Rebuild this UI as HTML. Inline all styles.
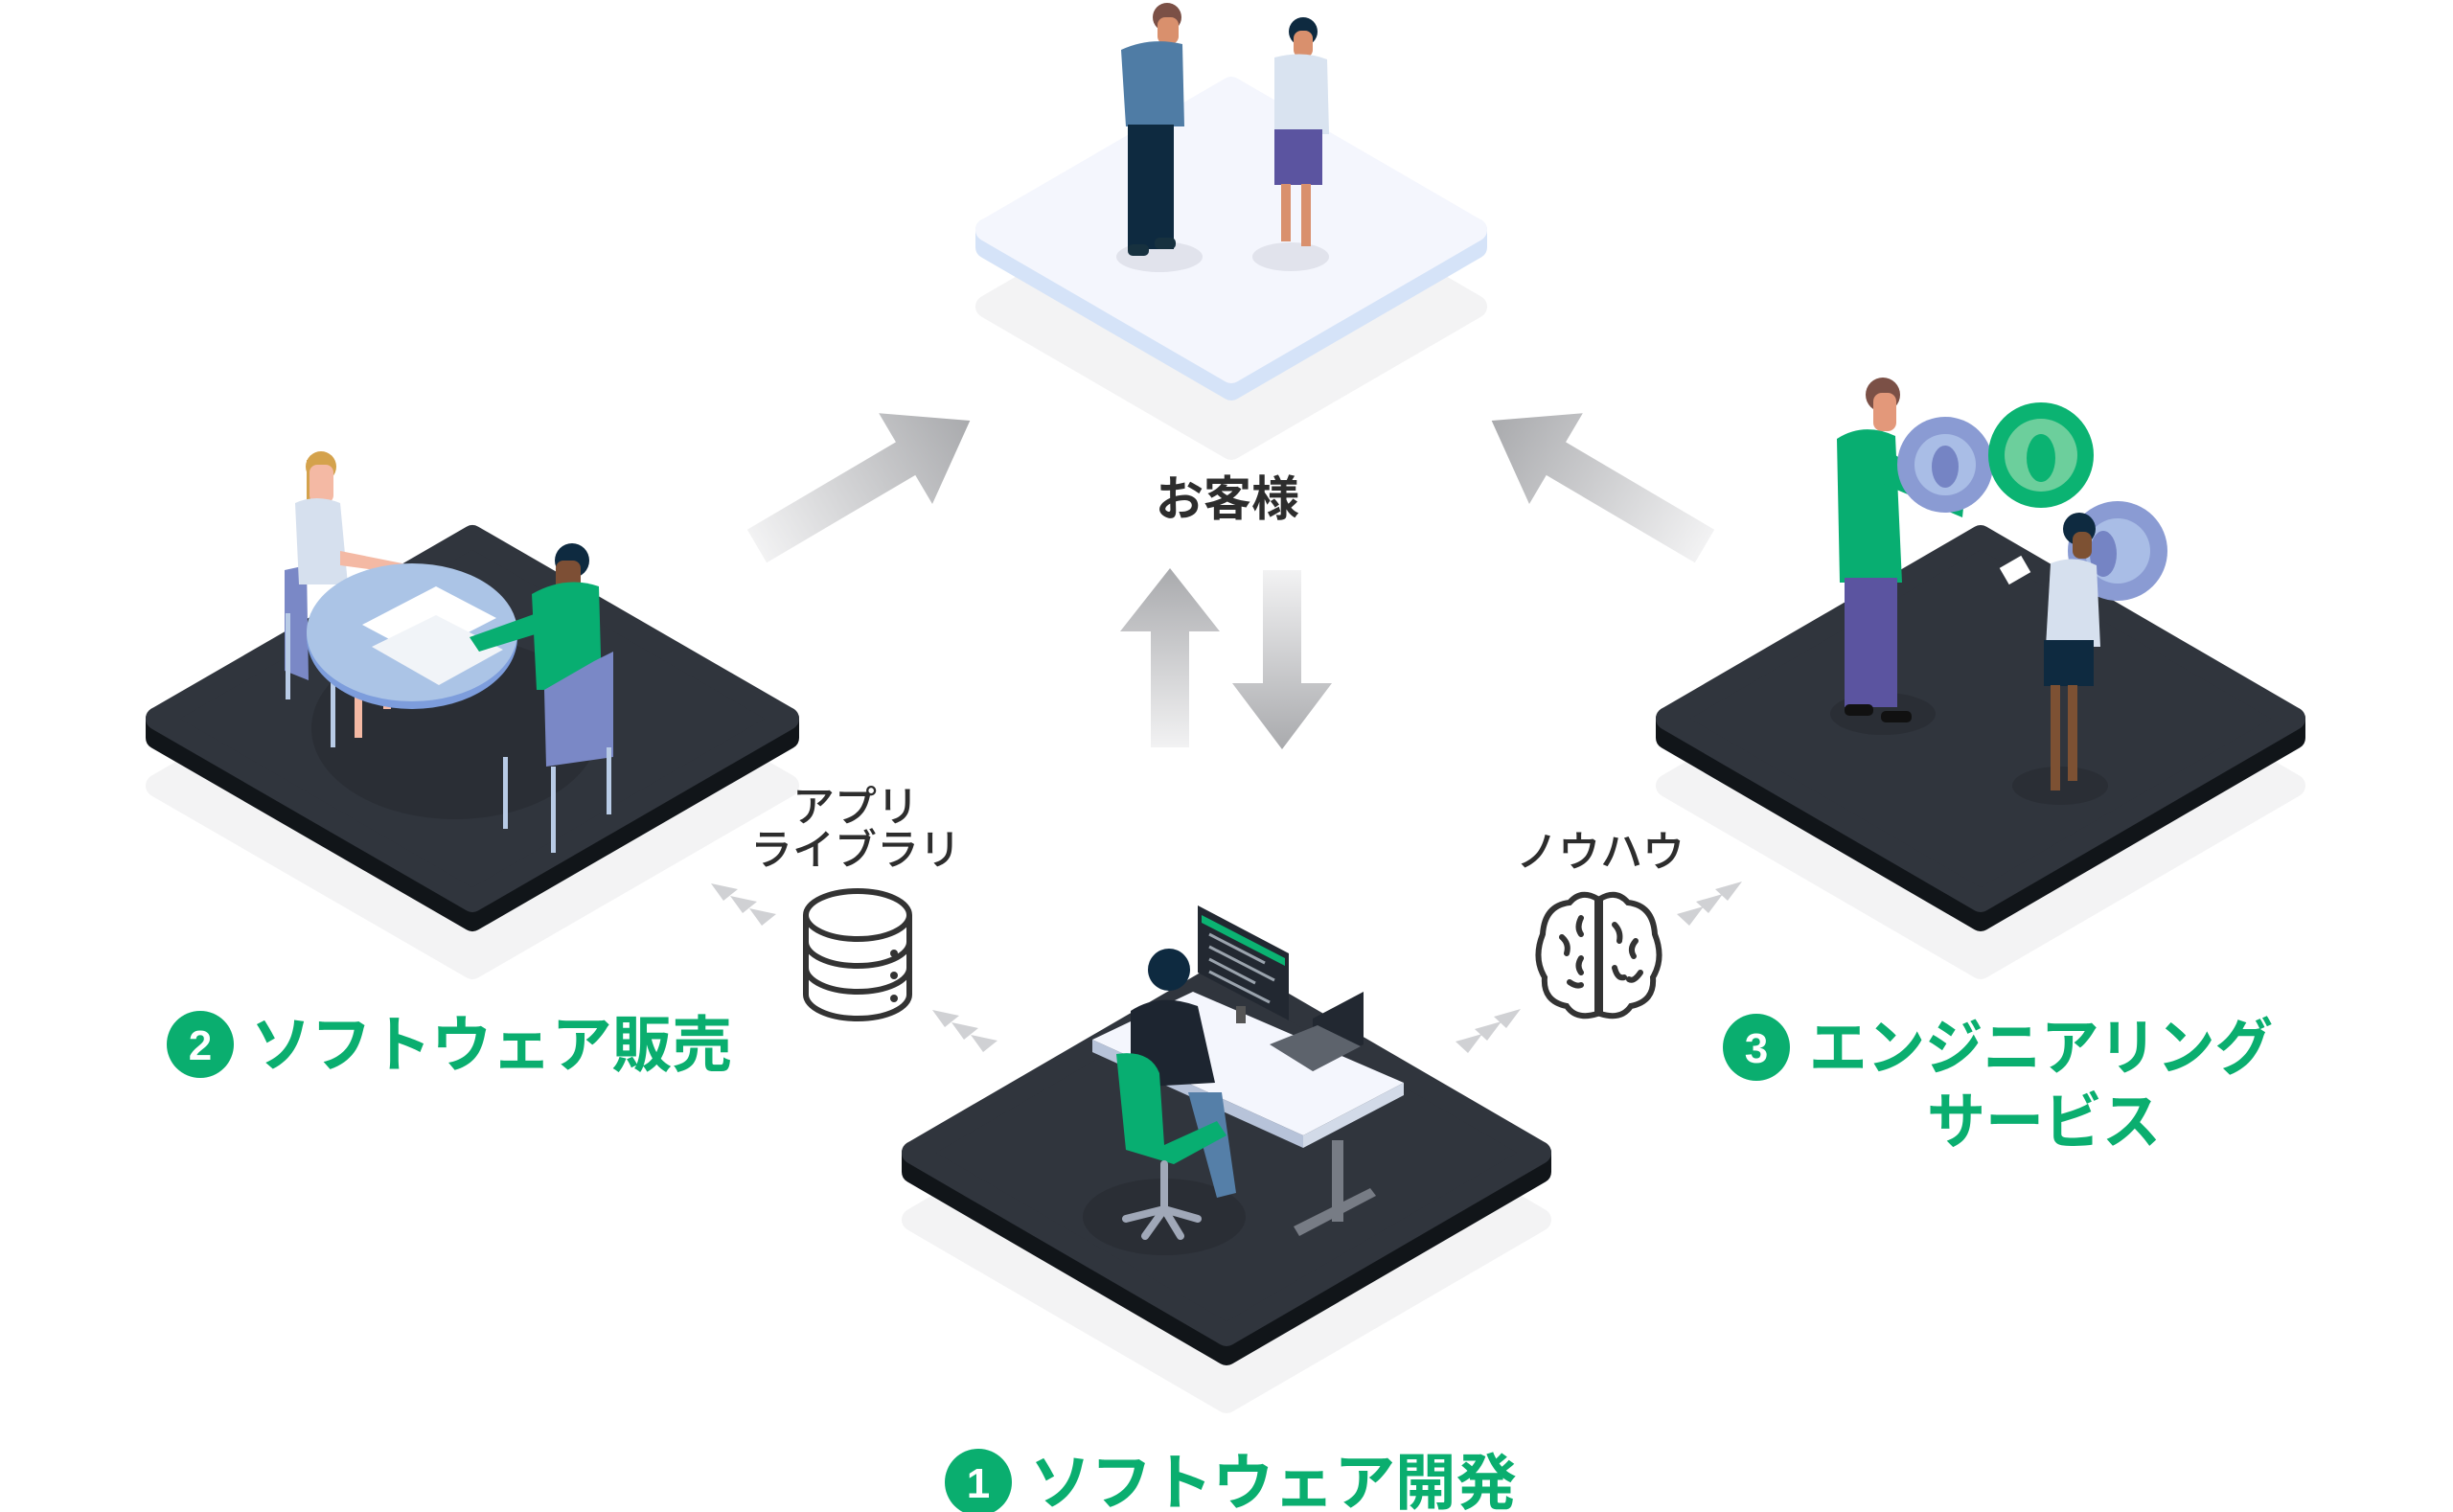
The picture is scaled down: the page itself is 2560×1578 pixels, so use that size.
<!DOCTYPE html>
<html><head><meta charset="utf-8"><style>
html,body{margin:0;padding:0;background:#fff;}
svg{display:block;}
.g{font-family:"Liberation Sans","Noto Sans CJK JP",sans-serif;font-weight:bold;fill:#0aae6f;font-size:64px;}
.k{font-family:"Liberation Sans","Noto Sans CJK JP",sans-serif;fill:#2d2d2d;}
</style></head><body>
<svg width="2560" height="1578" viewBox="0 0 2560 1578" xmlns="http://www.w3.org/2000/svg">
<defs>
<linearGradient id="ga" x1="0" y1="0" x2="1" y2="0"><stop offset="0" stop-color="#f2f2f3"/><stop offset="1" stop-color="#a9aaad"/></linearGradient>
</defs>

<!-- shadows -->
<g fill="#f3f3f4" stroke="#f3f3f4" stroke-width="24" stroke-linejoin="round">
<polygon points="1030,320 1285,172 1540,320 1285,468"/>
<polygon points="164,820 493,630 822,820 493,1010"/>
<polygon points="1740,820 2067,630 2394,820 2067,1010"/>
<polygon points="953,1273 1280,1083 1607,1273 1280,1463"/>
</g>

<!-- top platform -->
<g stroke-linejoin="round" stroke-width="24">
<polygon points="1030,240 1285,388 1540,240 1540,258 1285,406 1030,258" fill="#d5e3f8" stroke="#d5e3f8"/>
<polygon points="1030,240 1285,92 1540,240 1285,388" fill="#f4f6fd" stroke="#f4f6fd"/>
</g>
<!-- dark platforms -->
<g stroke-linejoin="round" stroke-width="24">
<polygon points="164,750 493,940 822,750 822,770 493,960 164,770" fill="#111519" stroke="#111519"/>
<polygon points="164,750 493,560 822,750 493,940" fill="#30353d" stroke="#30353d"/>
<polygon points="1740,750 2067,940 2394,750 2394,770 2067,960 1740,770" fill="#111519" stroke="#111519"/>
<polygon points="1740,750 2067,560 2394,750 2067,940" fill="#30353d" stroke="#30353d"/>
<polygon points="953,1203 1280,1393 1607,1203 1607,1223 1280,1413 953,1223" fill="#111519" stroke="#111519"/>
<polygon points="953,1203 1280,1013 1607,1203 1280,1393" fill="#30353d" stroke="#30353d"/>
</g>

<!-- top people -->
<ellipse cx="1210" cy="268" rx="45" ry="16" fill="#e1e3ec"/>
<ellipse cx="1347" cy="268" rx="40" ry="15" fill="#e1e3ec"/>
<circle cx="1218" cy="18" r="15" fill="#7b5046"/><rect x="1208" y="18" width="22" height="28" rx="8" fill="#d9906d"/>
<path d="M1170,52 Q1200,38 1234,46 L1236,132 L1175,132 Z" fill="#4f7ca5"/>
<rect x="1177" y="130" width="48" height="130" fill="#0e2a40"/>
<rect x="1177" y="255" width="22" height="12" rx="5" fill="#17313f"/><rect x="1205" y="248" width="22" height="12" rx="5" fill="#17313f"/>
<circle cx="1360" cy="33" r="15" fill="#0e2a40"/><rect x="1350" y="32" width="20" height="28" rx="8" fill="#d9906d"/>
<path d="M1330,60 Q1360,52 1385,62 L1387,140 L1330,140 Z" fill="#d9e3f0"/>
<rect x="1330" y="135" width="50" height="58" fill="#5b54a0"/>
<rect x="1337" y="192" width="10" height="60" fill="#d9906d"/><rect x="1358" y="192" width="10" height="65" fill="#d9906d"/>

<!-- left scene -->
<ellipse cx="475" cy="760" rx="150" ry="95" fill="#2a2e35"/>
<path d="M297,595 L320,590 L322,710 L297,700 Z" fill="#7a88c6"/>
<rect x="298" y="640" width="5" height="90" fill="#b8cbe6"/><rect x="345" y="680" width="5" height="100" fill="#b8cbe6"/>
<circle cx="335" cy="487" r="16" fill="#d4a24c"/><rect x="320" y="480" width="10" height="60" fill="#d4a24c"/>
<rect x="323" y="485" width="25" height="40" rx="8" fill="#f4b9a4"/>
<path d="M308,525 Q330,515 355,525 L363,610 L312,610 Z" fill="#d6e0ee"/>
<path d="M355,575 L430,590 L430,600 L355,590 Z" fill="#f4b9a4"/>
<rect x="370" y="700" width="8" height="70" fill="#f4b9a4"/><rect x="400" y="690" width="8" height="50" fill="#f4b9a4"/>
<ellipse cx="430" cy="665" rx="110" ry="75" fill="#7d9ddc"/>
<ellipse cx="430" cy="660" rx="110" ry="72" fill="#abc4e6"/>
<polygon points="378,652 455,612 518,645 440,685" fill="#ffffff"/>
<polygon points="388,675 455,642 525,678 458,715" fill="#f1f4f8"/>
<circle cx="597" cy="585" r="18" fill="#0e2a40"/><rect x="580" y="585" width="26" height="35" rx="8" fill="#7d4f35"/>
<path d="M555,620 Q590,600 625,612 L628,720 L560,720 Z" fill="#08ae71"/>
<path d="M490,665 L560,640 L565,660 L500,680 Z" fill="#08ae71"/>
<path d="M568,720 L620,690 L640,680 L640,790 L570,800 Z" fill="#7a88c6"/>
<rect x="525" y="790" width="5" height="75" fill="#b8cbe6"/><rect x="575" y="800" width="5" height="90" fill="#b8cbe6"/><rect x="633" y="780" width="5" height="70" fill="#b8cbe6"/>

<!-- right scene -->
<ellipse cx="1965" cy="745" rx="55" ry="22" fill="#2a2e35"/>
<ellipse cx="2150" cy="820" rx="50" ry="20" fill="#2a2e35"/>
<circle cx="1965" cy="412" r="18" fill="#7b5046"/><rect x="1955" y="410" width="24" height="40" rx="9" fill="#e3987a"/>
<path d="M1917,458 Q1945,440 1978,455 L1985,608 L1920,608 Z" fill="#08ae71"/>
<path d="M1970,470 L2050,520 L2048,540 L1965,505 Z" fill="#08ae71"/>
<rect x="1925" y="603" width="55" height="135" fill="#5b54a0"/>
<rect x="1925" y="735" width="30" height="12" rx="5" fill="#111"/><rect x="1963" y="742" width="32" height="12" rx="5" fill="#111"/>
<circle cx="2030" cy="485" r="50" fill="#8a9bd3"/><circle cx="2030" cy="485" r="32" fill="#a9bde6"/><ellipse cx="2030" cy="487" rx="14" ry="22" fill="#7584c4"/>
<circle cx="2130" cy="475" r="55" fill="#0bb372"/><circle cx="2130" cy="475" r="38" fill="#6ccf9c"/><ellipse cx="2130" cy="478" rx="15" ry="25" fill="#0bb372"/>
<circle cx="2210" cy="575" r="52" fill="#8a9bd3"/><circle cx="2210" cy="575" r="34" fill="#a9bde6"/><ellipse cx="2195" cy="578" rx="14" ry="24" fill="#7584c4"/>
<circle cx="2170" cy="552" r="17" fill="#0e2a40"/><rect x="2163" y="555" width="20" height="28" rx="8" fill="#7d5133"/>
<path d="M2140,588 Q2165,578 2188,590 L2192,675 L2135,675 Z" fill="#d6e0ee"/>
<rect x="2133" y="668" width="52" height="48" fill="#0e2a40"/>
<rect x="2140" y="715" width="10" height="110" fill="#7d5133"/><rect x="2158" y="715" width="10" height="100" fill="#7d5133"/>
<rect x="2090" y="585" width="26" height="20" fill="#fff" transform="rotate(-30 2103 595)"/>

<!-- bottom scene -->
<ellipse cx="1215" cy="1270" rx="85" ry="40" fill="#2a2e35"/>
<polygon points="1140,1085 1360,1185 1465,1130 1245,1035" fill="#f4f6fd"/>
<polygon points="1140,1085 1360,1185 1360,1198 1140,1098" fill="#b7c3d9"/>
<polygon points="1360,1185 1465,1130 1465,1143 1360,1198" fill="#d2dae8"/>
<rect x="1390" y="1190" width="12" height="85" fill="#777c85"/>
<polygon points="1350,1280 1430,1240 1436,1248 1356,1290" fill="#777c85"/>
<polygon points="1250,945 1345,995 1345,1065 1250,1015" fill="#222831"/>
<polygon points="1254,955 1341,1000 1341,1008 1254,963" fill="#0bb372"/>
<g stroke="#9aa3ad" stroke-width="3"><line x1="1262" y1="975" x2="1320" y2="1005"/><line x1="1262" y1="988" x2="1330" y2="1023"/><line x1="1262" y1="1001" x2="1310" y2="1026"/><line x1="1262" y1="1014" x2="1325" y2="1046"/></g>
<rect x="1290" y="1050" width="10" height="18" fill="#555"/>
<polygon points="1370,1063 1423,1035 1423,1090 1370,1118" fill="#222831"/>
<polygon points="1325,1090 1370,1118 1420,1092 1375,1070" fill="#5d636c"/>
<circle cx="1220" cy="1012" r="22" fill="#0e2a40"/>
<path d="M1180,1055 Q1210,1035 1250,1050 L1268,1130 L1180,1135 Z" fill="#1d2530"/>
<path d="M1240,1140 L1275,1140 L1290,1245 L1270,1250 Z" fill="#557fa8"/>
<path d="M1165,1100 Q1200,1095 1210,1120 L1215,1195 L1270,1170 L1280,1185 L1225,1215 L1175,1200 Z" fill="#08ae71"/>
<g stroke="#a0a8b8" stroke-width="8" stroke-linecap="round"><line x1="1215" y1="1215" x2="1215" y2="1262"/><line x1="1215" y1="1262" x2="1175" y2="1272"/><line x1="1215" y1="1262" x2="1250" y2="1272"/><line x1="1215" y1="1262" x2="1195" y2="1290"/><line x1="1215" y1="1262" x2="1232" y2="1290"/></g>

<!-- arrows -->
<g transform="translate(1221,780) rotate(-90)"><polygon points="0,-20 121,-20 121,-52 187,0 121,52 121,20 0,20" fill="url(#ga)"/></g>
<g transform="translate(1338,595) rotate(90)"><polygon points="0,-20 118,-20 118,-52 187,0 118,52 118,20 0,20" fill="url(#ga)"/></g>
<g transform="translate(1779,570) rotate(-149.5)"><polygon points="0,-20 180,-20 180,-55 258,0 180,55 180,20 0,20" fill="url(#ga)"/></g>
<g transform="translate(790,570) rotate(-30.5)"><polygon points="0,-20 180,-20 180,-55 258,0 180,55 180,20 0,20" fill="url(#ga)"/></g>

<!-- chevrons -->
<g fill="#d0d1d4">
<polygon points="742,922 770,928 755,940"/><polygon points="762,935 790,941 775,953"/><polygon points="782,948 810,954 795,966"/>
<polygon points="973,1054 1001,1060 986,1072"/><polygon points="993,1067 1021,1073 1006,1085"/><polygon points="1013,1080 1041,1086 1026,1098"/>
<polygon points="1818,920 1790,928 1803,940"/><polygon points="1798,933 1770,941 1783,953"/><polygon points="1778,946 1750,954 1763,966"/>
<polygon points="1587,1053 1559,1061 1572,1073"/><polygon points="1567,1066 1539,1074 1552,1086"/><polygon points="1547,1079 1519,1087 1532,1099"/>
</g>

<!-- database icon -->
<g fill="none" stroke="#333" stroke-width="6">
<ellipse cx="895" cy="955" rx="54" ry="25"/>
<path d="M841,955 V1038 A54,25 0 0 0 949,1038 V955"/>
<path d="M841,983 A54,25 0 0 0 949,983"/>
<path d="M841,1010 A54,25 0 0 0 949,1010"/>
</g>
<g fill="#333"><circle cx="933" cy="995" r="4"/><circle cx="933" cy="1018" r="4"/><circle cx="933" cy="1042" r="4"/></g>

<!-- brain icon -->
<g fill="none" stroke="#333" stroke-width="6" stroke-linecap="round">
<path d="M1667,938 Q1650,928 1638,942 Q1612,945 1610,975 Q1600,1000 1612,1020 Q1610,1045 1635,1050 Q1645,1065 1667,1058 Z"/>
<path d="M1670,938 Q1687,928 1699,942 Q1725,945 1727,975 Q1737,1000 1725,1020 Q1727,1045 1702,1050 Q1692,1065 1670,1058 Z"/>
<path d="M1630,978 Q1638,985 1635,995"/><path d="M1650,958 Q1645,968 1650,975"/><path d="M1650,1000 Q1645,1008 1650,1015"/><path d="M1638,1025 Q1645,1030 1650,1028"/>
<path d="M1685,965 Q1692,972 1690,982"/><path d="M1707,982 Q1700,990 1705,998"/><path d="M1685,1010 Q1688,1022 1695,1020"/><path d="M1712,1015 Q1705,1025 1700,1022"/>
</g>

<!-- labels -->
<text x="1281" y="538" text-anchor="middle" class="k" font-size="50" font-weight="bold">お客様</text>
<text x="893" y="857" text-anchor="middle" class="k" font-size="44" font-weight="500">アプリ</text>
<text x="893" y="902" text-anchor="middle" class="k" font-size="44" font-weight="500">ライブラリ</text>
<text x="1670" y="904" text-anchor="middle" class="k" font-size="44" font-weight="500">ノウハウ</text>

<circle cx="209" cy="1090" r="35" fill="#0aae6f"/>
<text x="209" y="1106" text-anchor="middle" font-family="Liberation Sans,sans-serif" font-weight="bold" font-size="44" fill="#fff">2</text>
<text x="262" y="1113" class="g" textLength="502" lengthAdjust="spacingAndGlyphs">ソフトウェア販売</text>

<circle cx="1833" cy="1093" r="35" fill="#0aae6f"/>
<text x="1833" y="1109" text-anchor="middle" font-family="Liberation Sans,sans-serif" font-weight="bold" font-size="44" fill="#fff">3</text>
<text x="1888" y="1116" class="g" textLength="484" lengthAdjust="spacingAndGlyphs">エンジニアリング</text>
<text x="2011" y="1193" class="g" textLength="244" lengthAdjust="spacingAndGlyphs">サービス</text>

<circle cx="1021" cy="1547" r="35" fill="#0aae6f"/>
<text x="1021" y="1563" text-anchor="middle" font-family="Liberation Sans,sans-serif" font-weight="bold" font-size="44" fill="#fff">1</text>
<text x="1075" y="1570" class="g" textLength="508" lengthAdjust="spacingAndGlyphs">ソフトウェア開発</text>
</svg>
</body></html>
